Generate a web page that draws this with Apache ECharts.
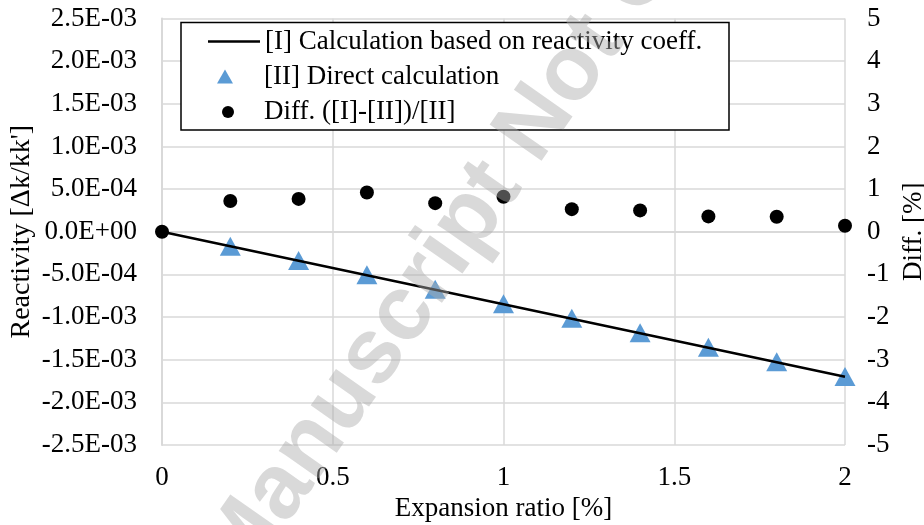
<!DOCTYPE html>
<html>
<head>
<meta charset="utf-8">
<script src="https://cdn.jsdelivr.net/npm/echarts@6/dist/echarts.min.js"></script>
<style>
html, body { margin: 0; padding: 0; background: #fff; }
#mainContent { width: 924px; height: 525px; }
</style>
</head>
<body>
<div id="mainContent"></div>
<script>
// 数据
var ratio = [0, 0.2, 0.4, 0.6, 0.8, 1.0, 1.2, 1.4, 1.6, 1.8, 2.0];
var calcCoeff = [0, -1.70e-4, -3.40e-4, -5.10e-4, -6.80e-4, -8.50e-4, -1.020e-3, -1.190e-3, -1.360e-3, -1.530e-3, -1.700e-3];
var directRatio = [0.2, 0.4, 0.6, 0.8, 1.0, 1.2, 1.4, 1.6, 1.8, 2.0];
var directCalc = [-1.688e-4, -3.374e-4, -5.053e-4, -6.755e-4, -8.431e-4, -1.0146e-3, -1.1841e-3, -1.3551e-3, -1.5247e-3, -1.6976e-3];
var diffPct = [0, 0.72, 0.77, 0.92, 0.67, 0.82, 0.53, 0.50, 0.36, 0.35, 0.14];
var seriesNames = ['[I] Calculation based on reactivity coeff.', '[II] Direct calculation', 'Diff. ([I]-[II])/[II]'];

var FONT = '"Liberation Serif", "Times New Roman", serif';

function zip(xs, ys) {
    return xs.map(function (x, i) { return [x, ys[i]]; });
}

function sciLabel(v) {
    if (Math.abs(v) < 1e-12) return '0.0E+00';
    var s = v.toExponential(1).split('e');
    var e = parseInt(s[1], 10);
    var es = (e < 0 ? '-' : '+') + (Math.abs(e) < 10 ? '0' : '') + Math.abs(e);
    return s[0] + 'E' + es;
}

var myChart = echarts.init(document.getElementById('mainContent'));

var gridColor = '#d9d9d9';
var legendText = { fontFamily: FONT, fontSize: 27, color: '#000' };

option = {
    animation: false,
    textStyle: { fontFamily: FONT },
    grid: { left: 162, right: 79, top: 18.5, bottom: 80, containLabel: false, outerBoundsMode: 'none' },
    legend: [{
        // 线
        orient: 'vertical',
        left: 208,
        top: 28,
        padding: 0,
        itemWidth: 52,
        itemHeight: 2.5,
        textStyle: legendText,
        data: [{ name: seriesNames[0], icon: 'rect', itemStyle: { color: '#000' } }]
    }, {
        orient: 'vertical',
        left: 217,
        top: 63,
        padding: 0,
        itemWidth: 16,
        itemHeight: 14,
        textStyle: Object.assign({ padding: [0, 0, 0, 26] }, legendText),
        data: [{ name: seriesNames[1], icon: 'triangle' }]
    }, {
        orient: 'vertical',
        left: 222,
        top: 98.5,
        padding: 0,
        itemWidth: 12,
        itemHeight: 12,
        textStyle: Object.assign({ padding: [0, 0, 0, 25] }, legendText),
        data: [{ name: seriesNames[2], icon: 'circle' }]
    }],
    xAxis: {
        type: 'value',
        min: 0,
        max: 2,
        interval: 0.5,
        name: 'Expansion ratio [%]',
        nameLocation: 'middle',
        nameGap: 45,
        nameTextStyle: { fontFamily: FONT, fontSize: 27, color: '#000' },
        axisLine: { lineStyle: { color: gridColor, width: 2 } },
        axisTick: { show: false },
        axisLabel: { fontFamily: FONT, fontSize: 27, color: '#000', margin: 19 },
        splitLine: { lineStyle: { color: gridColor, width: 1.5 } }
    },
    yAxis: [{
        type: 'value',
        min: -2.5e-3,
        max: 2.5e-3,
        interval: 0.5e-3,
        name: "Reactivity [Δk/kk']",
        nameLocation: 'middle',
        nameGap: 126,
        nameMoveOverlap: false,
        nameTextStyle: { fontFamily: FONT, fontSize: 28, color: '#000' },
        axisLine: { show: true, lineStyle: { color: gridColor, width: 2 } },
        axisTick: { show: false },
        axisLabel: { fontFamily: FONT, fontSize: 27, color: '#000', margin: 25, formatter: sciLabel },
        splitLine: { lineStyle: { color: gridColor, width: 1.5 } }
    }, {
        type: 'value',
        min: -5,
        max: 5,
        interval: 1,
        name: 'Diff. [%]',
        nameLocation: 'middle',
        nameGap: 53,
        nameRotate: 90,
        nameTextStyle: { fontFamily: FONT, fontSize: 27, color: '#000' },
        axisLine: { show: false },
        axisTick: { show: false },
        axisLabel: { fontFamily: FONT, fontSize: 27, color: '#000', margin: 22 },
        splitLine: { show: false }
    }],
    series: [{
        name: seriesNames[0],
        type: 'line',
        symbol: 'none',
        lineStyle: { color: '#000', width: 2.5 },
        itemStyle: { color: '#000' },
        data: zip(ratio, calcCoeff)
    }, {
        name: seriesNames[1],
        type: 'scatter',
        symbol: 'triangle',
        symbolSize: [21, 19],
        itemStyle: { color: '#5b9bd5', opacity: 1 },
        data: zip(directRatio, directCalc)
    }, {
        name: seriesNames[2],
        type: 'scatter',
        yAxisIndex: 1,
        symbol: 'circle',
        symbolSize: 14,
        itemStyle: { color: '#000', opacity: 1 },
        data: zip(ratio, diffPct)
    }],
    graphic: [{
        // 图例边框
        type: 'rect',
        z: 3,
        silent: true,
        shape: { x: 181, y: 22.5, width: 548, height: 107.5 },
        style: { fill: '#fff', stroke: '#000', lineWidth: 1.5 }
    }, {
        type: 'text',
        x: 221,
        y: 574,
        rotation: 55 * Math.PI / 180,
        z: 100,
        silent: true,
        style: {
            text: 'Manuscript Not Copyedited',
            fontFamily: '"Liberation Sans", Arial, sans-serif',
            fontWeight: 'bold',
            fontSize: 92,
            fill: 'rgba(173,173,173,0.46)',
            textAlign: 'left',
            textVerticalAlign: 'middle'
        }
    }]
};

// 使用刚指定的配置项和数据显示图表。
myChart.setOption(option);
</script>
</body>
</html>
